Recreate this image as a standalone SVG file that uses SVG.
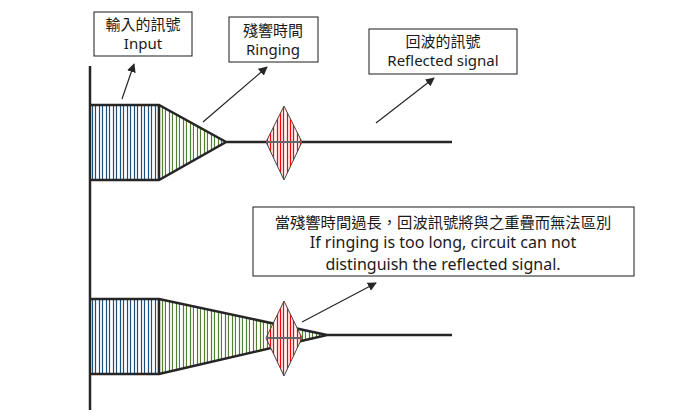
<svg xmlns="http://www.w3.org/2000/svg" width="686" height="416" viewBox="0 0 686 416">
<defs>
<pattern id="hb" patternUnits="userSpaceOnUse" x="90" y="0" width="7" height="10"><line x1="2.5" y1="0" x2="2.5" y2="10" stroke="#1f4e79" stroke-width="1.2"/><line x1="5.5" y1="0" x2="5.5" y2="10" stroke="#1f4e79" stroke-width="1.2"/></pattern>
<pattern id="hg" patternUnits="userSpaceOnUse" x="159" y="0" width="7" height="10"><line x1="3.5" y1="0" x2="3.5" y2="10" stroke="#4f7f2f" stroke-width="1.2"/><line x1="6.5" y1="0" x2="6.5" y2="10" stroke="#4f7f2f" stroke-width="1.2"/></pattern>
<pattern id="hr" patternUnits="userSpaceOnUse" x="266" y="0" width="10" height="10"><rect width="10" height="10" fill="#fff"/><line x1="1.5" y1="0" x2="1.5" y2="10" stroke="#ff0000" stroke-width="1.3"/><line x1="4.5" y1="0" x2="4.5" y2="10" stroke="#ff0000" stroke-width="1.3"/><line x1="7.5" y1="0" x2="7.5" y2="10" stroke="#ff0000" stroke-width="1.3"/></pattern>
<marker id="ah" viewBox="0 0 10 10" refX="9" refY="5" markerWidth="9" markerHeight="9" orient="auto" markerUnits="userSpaceOnUse"><path d="M0,0 L10,5 L0,10 z" fill="#262626"/></marker>
</defs>
<style>
.box{fill:#fff;stroke:#1a1a1a;stroke-width:1}
.t{font-family:"Noto Sans","Noto Sans CJK TC",sans-serif;font-size:15px;fill:#1a1a1a;text-anchor:middle}
.t2{font-family:"Noto Sans","Noto Sans CJK TC",sans-serif;font-size:16px;fill:#1a1a1a;text-anchor:middle}
.tc{font-family:"Noto Sans CJK TC",sans-serif;font-size:15.3px;fill:#1a1a1a;text-anchor:middle}
.sig{stroke:#262626;stroke-width:2.5;fill:none}
.arr{stroke:#262626;stroke-width:1.2;fill:none;marker-end:url(#ah)}
.dia{stroke:#444;stroke-width:1;fill:url(#hr)}
.mid{stroke:#666;stroke-width:1.8}
</style>
<rect width="686" height="416" fill="#fff"/>
<g id="axis"><line x1="90" y1="66" x2="90" y2="410" stroke="#262626" stroke-width="2.5"/></g>
<g id="top-signal">
<rect x="90" y="105" width="69" height="75" fill="url(#hb)"/>
<polygon points="159,105 226,142 159,180" fill="url(#hg)"/>
<path class="sig" d="M90,105 H159 L226,142 L159,180 H90 M159,105 V180 M226,142 H452"/>
<polygon class="dia" points="284,106 302,142 284,180 266,142"/>
<line class="mid" x1="267" y1="142" x2="301" y2="142"/>
</g>
<g id="bottom-signal">
<rect x="90" y="299" width="69" height="75" fill="url(#hb)"/>
<polygon points="159,299 327,335 159,374" fill="url(#hg)"/>
<path class="sig" d="M90,299 H159 L327,335 L159,374 H90 M159,299 V374 M327,335 H452"/>
<polygon class="dia" points="284,301 302,338 284,376 266,338"/>
<line class="mid" x1="267" y1="338" x2="301" y2="338"/>
</g>
<g id="input-label"><rect class="box" x="94" y="12" width="98" height="44"/><text class="t" x="143" y="30">輸入的訊號</text><text class="t" x="143" y="49">Input</text></g>
<g id="ringing-label"><rect class="box" x="229" y="17" width="89" height="45"/><text class="t" x="273" y="36">殘響時間</text><text class="t" x="273" y="55">Ringing</text></g>
<g id="reflected-label"><rect class="box" x="369" y="29" width="148" height="45"/><text class="t" x="443" y="47">回波的訊號</text><text class="t" x="443" y="66">Reflected signal</text></g>
<g id="note"><rect class="box" x="253" y="207" width="381" height="69"/><text class="tc" x="443" y="228">當殘響時間過長，回波訊號將與之重疊而無法區別</text><text class="t2" x="443" y="248">If ringing is too long, circuit can not</text><text class="t2" x="443" y="270">distinguish the reflected signal.</text></g>
<g id="connectors">
<line class="arr" x1="122" y1="99" x2="134" y2="64"/>
<line class="arr" x1="203" y1="122" x2="267" y2="67"/>
<line class="arr" x1="376" y1="123" x2="434" y2="78"/>
<line class="arr" x1="302" y1="322" x2="376" y2="283"/>
</g>
</svg>
